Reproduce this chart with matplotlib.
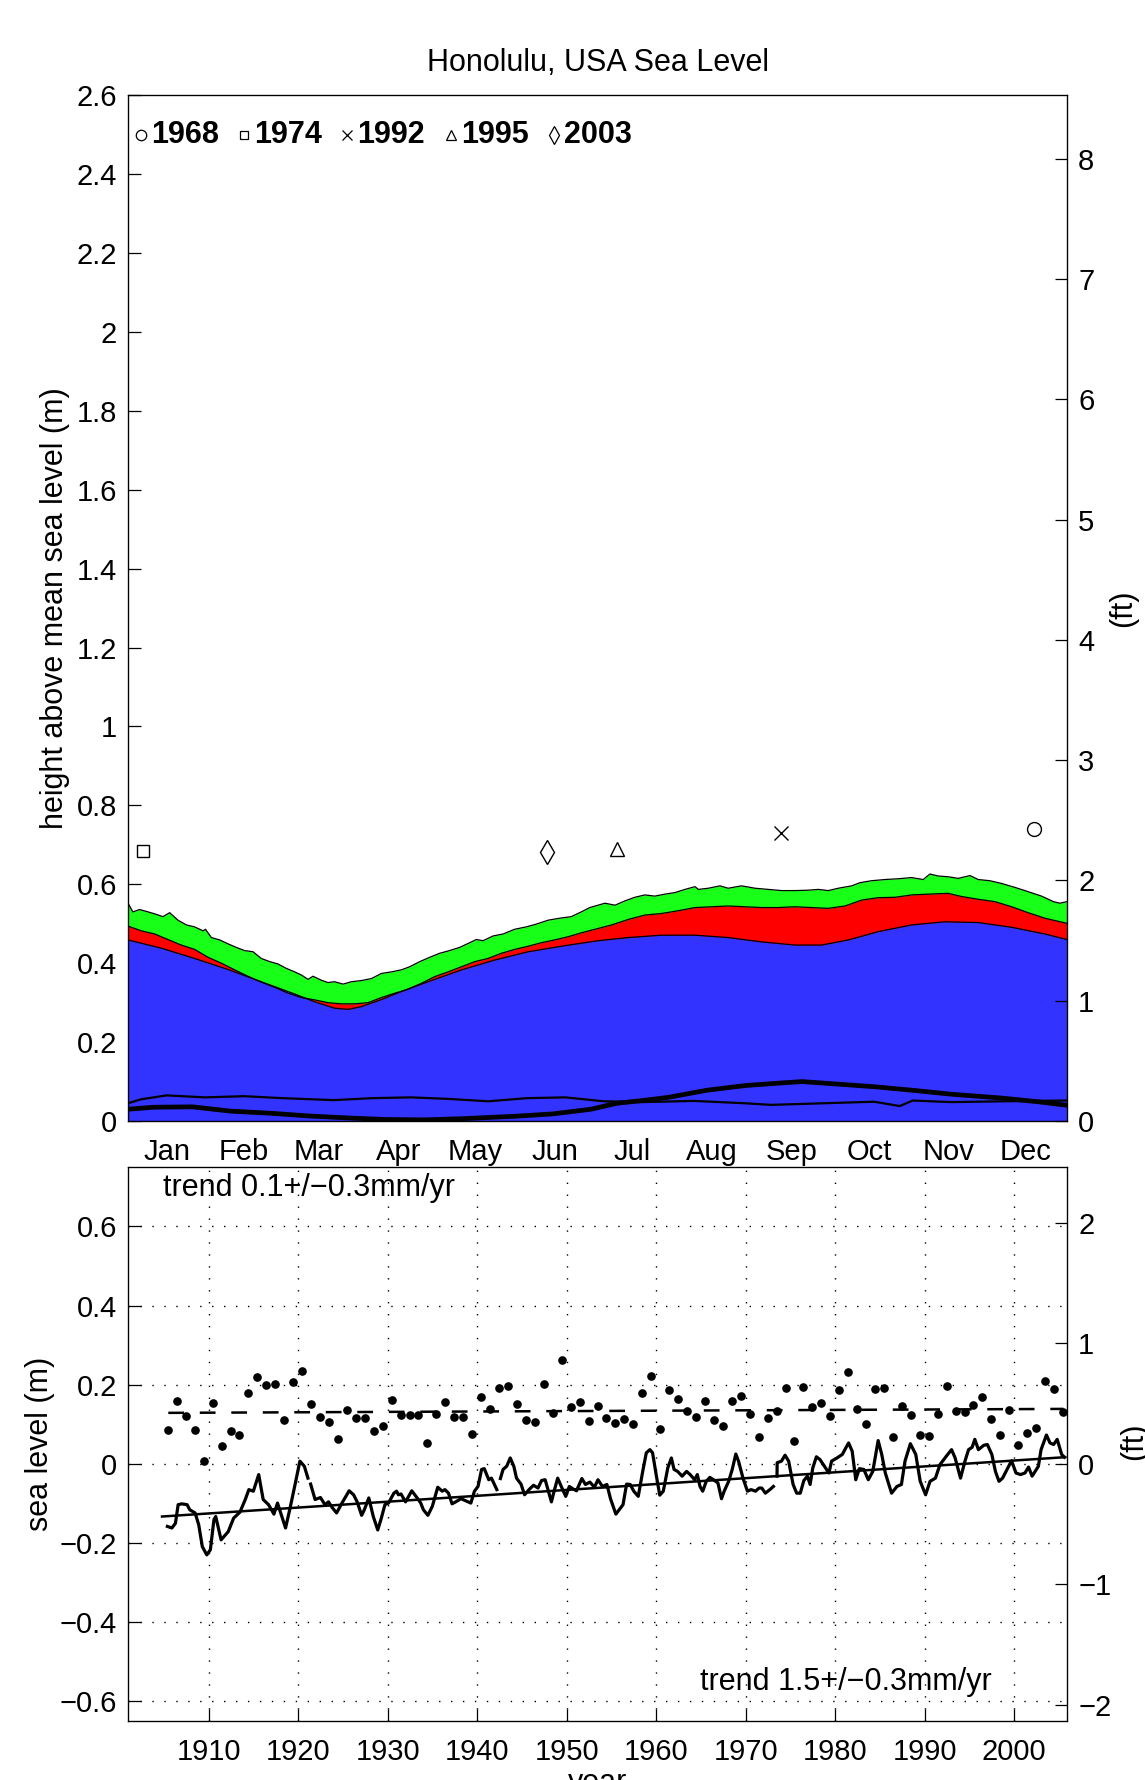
import numpy as np
import matplotlib
matplotlib.use("Agg")
import matplotlib.pyplot as plt
from matplotlib.ticker import FuncFormatter

plt.rcParams["font.family"] = ["Liberation Sans", "DejaVu Sans"]
plt.rcParams["axes.unicode_minus"] = True

M2FT = 1 / 0.3048

# ---- top panel: seasonal cycle (day of year, m) ----
green_day = [0, 1.9, 4.5, 7.8, 10.4, 13.6, 16.2, 19.4, 22.7, 25.9, 29.2, 30.1, 32.4, 35.6,
             38.9, 42.1, 45.3, 48.6, 51.8, 55.1, 58.3, 61.5, 64.8, 67.4, 70.0, 71.9, 75.1,
             77.7, 80.3, 83.6, 86.8, 90.7, 94.6, 98.5, 102.4, 106.2, 109.5, 113.4, 117.3,
             121.1, 125.0, 128.9, 132.2, 135.4, 138.0, 141.9, 145.8, 150.3, 154.8, 158.7,
             163.3, 167.8, 172.3, 176.2, 179.5, 182.7, 185.4, 189.3, 193.2, 197.0, 200.9,
             204.8, 208.7, 212.6, 216.5, 220.4, 221.7, 225.6, 230.1, 233.3, 238.5, 243.7,
             248.9, 254.1, 259.2, 264.4, 268.3, 272.2, 276.1, 281.3, 284.5, 289.0, 294.2,
             299.4, 304.6, 309.1, 311.7, 314.9, 318.8, 322.7, 327.3, 330.5, 335.0, 339.6,
             344.8, 350.0, 355.1, 359.7, 362.2, 365]
green_val = [0.552, 0.530, 0.536, 0.530, 0.525, 0.518, 0.528, 0.509, 0.497, 0.492, 0.482,
             0.486, 0.465, 0.459, 0.449, 0.440, 0.432, 0.429, 0.412, 0.404, 0.398, 0.387,
             0.378, 0.370, 0.359, 0.367, 0.357, 0.351, 0.353, 0.347, 0.353, 0.356, 0.361,
             0.374, 0.378, 0.383, 0.391, 0.404, 0.415, 0.425, 0.432, 0.440, 0.450, 0.460,
             0.457, 0.469, 0.474, 0.486, 0.492, 0.499, 0.509, 0.514, 0.518, 0.530, 0.541,
             0.547, 0.552, 0.547, 0.558, 0.567, 0.573, 0.570, 0.575, 0.579, 0.587, 0.594,
             0.587, 0.590, 0.596, 0.590, 0.596, 0.590, 0.587, 0.584, 0.584, 0.585, 0.587,
             0.584, 0.590, 0.596, 0.604, 0.609, 0.612, 0.614, 0.617, 0.612, 0.626, 0.621,
             0.619, 0.615, 0.622, 0.612, 0.609, 0.602, 0.592, 0.581, 0.570, 0.556, 0.552,
             0.556]
red_day = [0, 5.2, 10.4, 15.5, 20.7, 25.9, 31.1, 36.3, 41.5, 46.6, 51.8, 57.0, 62.2, 67.4,
           72.6, 77.7, 82.9, 88.1, 93.3, 98.5, 103.7, 108.8, 114.0, 119.2, 124.4, 129.6,
           134.8, 139.9, 145.1, 150.3, 155.5, 160.7, 165.8, 171.0, 176.2, 182.7, 188.0,
           194.5, 200.9, 207.4, 213.9, 220.4, 226.8, 233.3, 239.8, 246.3, 252.8, 259.2,
           265.7, 272.2, 278.7, 285.2, 291.6, 298.1, 304.6, 311.1, 318.8, 324.0, 330.5,
           337.0, 343.5, 349.9, 356.4, 365]
red_val = [0.494, 0.482, 0.474, 0.460, 0.446, 0.435, 0.415, 0.400, 0.383, 0.367, 0.352,
           0.339, 0.324, 0.313, 0.307, 0.300, 0.297, 0.297, 0.300, 0.313, 0.324, 0.334,
           0.349, 0.366, 0.378, 0.391, 0.404, 0.412, 0.425, 0.435, 0.443, 0.452, 0.459,
           0.467, 0.477, 0.488, 0.497, 0.511, 0.522, 0.526, 0.533, 0.541, 0.543, 0.545,
           0.543, 0.541, 0.541, 0.543, 0.541, 0.539, 0.545, 0.560, 0.566, 0.567, 0.573,
           0.575, 0.577, 0.569, 0.562, 0.556, 0.543, 0.528, 0.514, 0.501]
blue_day = [0, 13, 25.9, 38.9, 51.8, 64.8, 72.6, 80.3, 85.5, 90.7, 98.5, 106.2, 116.6,
            129.6, 142.5, 155.5, 168.4, 182.7, 194.5, 207.4, 220.4, 233.3, 246.3, 259.2,
            269.6, 280.0, 291.6, 304.6, 317.5, 330.5, 343.5, 356.4, 365]
blue_val = [0.459, 0.438, 0.412, 0.384, 0.353, 0.322, 0.302, 0.286, 0.283, 0.290, 0.308,
            0.328, 0.353, 0.383, 0.408, 0.429, 0.443, 0.457, 0.465, 0.471, 0.471, 0.465,
            0.454, 0.446, 0.446, 0.459, 0.480, 0.497, 0.505, 0.503, 0.491, 0.474, 0.460]
thick_day = [0, 10, 25, 40, 55, 70, 85, 100, 115, 130, 150, 165, 180, 190, 200, 210, 225,
             240, 255, 262, 275, 290, 305, 320, 340, 355, 365]
thick_val = [0.030, 0.035, 0.036, 0.025, 0.020, 0.013, 0.008, 0.004, 0.003, 0.006, 0.012,
             0.018, 0.030, 0.045, 0.052, 0.060, 0.078, 0.090, 0.097, 0.100, 0.094, 0.087,
             0.078, 0.068, 0.058, 0.048, 0.040]
thin_day = [0, 5, 15, 30, 45, 60, 80, 95, 110, 125, 140, 155, 170, 185, 200, 220, 240, 250,
            270, 290, 300, 305, 320, 340, 365]
thin_val = [0.045, 0.055, 0.065, 0.060, 0.063, 0.058, 0.053, 0.058, 0.060, 0.056, 0.050,
            0.058, 0.060, 0.050, 0.048, 0.051, 0.045, 0.041, 0.045, 0.049, 0.038, 0.052,
            0.048, 0.050, 0.052]

ext_years = ["1968", "1974", "1992", "1995", "2003"]
ext_day = [352, 6, 254, 190, 163]
ext_val = [0.741, 0.684, 0.730, 0.689, 0.681]
ext_marker = ["o", "s", "x", "^", "d"]

month_lbl = ["Jan", "Feb", "Mar", "Apr", "May", "Jun", "Jul", "Aug", "Sep", "Oct", "Nov", "Dec"]
month_mid = [15, 45, 74, 105, 135, 166, 196, 227, 258, 288, 319, 349]

# ---- bottom panel: annual dots and monthly mean sea level ----
dot_year = list(range(1905, 2006))
dot_val = [0.085, 0.159, 0.121, 0.085, 0.007, 0.153, 0.046, 0.082, 0.073, 0.178,
           0.219, 0.199, 0.203, 0.110, 0.207, 0.234, 0.152, 0.118, 0.105, 0.062,
           0.136, 0.115, 0.115, 0.083, 0.096, 0.162, 0.123, 0.123, 0.124, 0.053,
           0.126, 0.156, 0.118, 0.118, 0.075, 0.170, 0.138, 0.192, 0.197, 0.151,
           0.110, 0.107, 0.203, 0.128, 0.262, 0.144, 0.156, 0.108, 0.146, 0.115,
           0.103, 0.114, 0.100, 0.180, 0.221, 0.087, 0.188, 0.165, 0.134, 0.118,
           0.159, 0.110, 0.095, 0.160, 0.172, 0.126, 0.068, 0.115, 0.134, 0.193,
           0.059, 0.195, 0.144, 0.155, 0.122, 0.188, 0.233, 0.140, 0.101, 0.190,
           0.192, 0.069, 0.146, 0.124, 0.074, 0.070, 0.125, 0.197, 0.133, 0.130,
           0.150, 0.169, 0.113, 0.074, 0.135, 0.048, 0.077, 0.090, 0.210, 0.189,
           0.131]
dot_fit_year = [1905.5, 2005.5]
dot_fit_val = [0.129, 0.139]

msl_year = [1905.4, 1905.9, 1906.3, 1906.6, 1907.0, 1907.6, 1907.9, 1908.5, 1908.9, 1909.3,
            1909.8, 1910.2, 1910.6, 1910.8, 1911.4, 1911.9, 1912.2, 1912.8, 1913.5, 1914.1,
            1914.5, 1915.0, 1915.6, 1916.1, 1916.7, 1917.3, 1917.7, 1918.1, 1918.6, 1919.1,
            1919.7, 1920.2, 1920.7, 1921.1, 1921.25, 1921.4, 1921.9, 1922.5, 1923.0, 1923.4,
            1923.8, 1924.3, 1924.9, 1925.7, 1926.2, 1926.6, 1927.1, 1927.4, 1927.9, 1928.4,
            1928.9, 1929.3, 1929.7, 1930.1, 1930.7, 1931.0, 1931.2, 1931.5, 1932.0, 1932.7,
            1933.3, 1933.7, 1934.0, 1934.5, 1935.0, 1935.6, 1936.1, 1936.4, 1936.8, 1937.2,
            1937.6, 1938.2, 1938.7, 1939.3, 1939.7, 1940.1, 1940.5, 1940.8, 1941.3, 1941.6,
            1942.2, 1942.4, 1942.6, 1942.9, 1943.3, 1943.7, 1944.1, 1944.4, 1944.9, 1945.3,
            1945.8, 1946.3, 1946.8, 1947.2, 1947.6, 1948.3, 1948.6, 1949.0, 1949.4, 1949.9,
            1950.3, 1950.7, 1951.1, 1951.7, 1952.1, 1952.6, 1953.1, 1953.5, 1954.0, 1954.5,
            1954.9, 1955.5, 1956.0, 1956.3, 1956.7, 1957.1, 1957.5, 1958.0, 1958.5, 1958.9,
            1959.3, 1959.6, 1960.0, 1960.4, 1960.8, 1961.3, 1961.7, 1962.0, 1962.4, 1962.9,
            1963.4, 1963.8, 1964.3, 1964.6, 1964.9, 1965.2, 1965.6, 1966.0, 1966.4, 1966.9,
            1967.3, 1967.6, 1968.1, 1968.5, 1968.9, 1969.2, 1969.7, 1970.2, 1970.6, 1971.1,
            1971.5, 1971.8, 1972.2, 1972.7, 1973.1, 1973.3, 1973.5, 1973.52, 1974.0, 1974.4,
            1974.8, 1975.3, 1975.7, 1976.1, 1976.5, 1976.9, 1977.2, 1977.5, 1977.9, 1978.3,
            1978.8, 1979.3, 1979.6, 1980.2, 1980.8, 1981.2, 1981.5, 1981.9, 1982.3, 1982.7,
            1983.2, 1983.7, 1984.2, 1984.8, 1985.2, 1985.6, 1986.3, 1986.9, 1987.4, 1987.8,
            1988.4, 1989.0, 1989.5, 1990.1, 1990.6, 1991.2, 1991.7, 1992.5, 1993.0, 1993.4,
            1994.0, 1994.5, 1994.9, 1995.3, 1995.6, 1996.0, 1996.6, 1997.0, 1997.5, 1997.9,
            1998.3, 1998.7, 1999.2, 1999.7, 2000.2, 2000.7, 2001.2, 2001.6, 2002.0, 2002.7,
            2003.0, 2003.6, 2004.0, 2004.4, 2004.8, 2005.3, 2005.6]
msl_val = [-0.158, -0.162, -0.150, -0.103, -0.101, -0.103, -0.116, -0.124, -0.154, -0.209,
           -0.230, -0.217, -0.141, -0.133, -0.192, -0.179, -0.171, -0.137, -0.122, -0.090,
           -0.065, -0.069, -0.027, -0.090, -0.103, -0.127, -0.099, -0.127, -0.162, -0.112,
           -0.048, 0.007, -0.006, -0.036, np.nan, -0.051, -0.090, -0.085, -0.103, -0.096,
           -0.110, -0.124, -0.099, -0.068, -0.078, -0.096, -0.130, -0.116, -0.086, -0.133,
           -0.167, -0.137, -0.103, -0.099, -0.074, -0.069, -0.078, -0.076, -0.096, -0.068,
           -0.086, -0.099, -0.116, -0.130, -0.107, -0.059, -0.069, -0.065, -0.074, -0.101,
           -0.096, -0.088, -0.093, -0.099, -0.069, -0.057, -0.014, -0.012, -0.040, -0.036,
           -0.065, np.nan, -0.037, -0.014, -0.006, 0.015, -0.006, -0.036, -0.051, -0.078,
           -0.065, -0.054, -0.061, -0.042, -0.040, -0.096, -0.069, -0.036, -0.057, -0.082,
           -0.057, -0.063, -0.068, -0.037, -0.052, -0.046, -0.059, -0.040, -0.057, -0.052,
           -0.088, -0.127, -0.112, -0.103, -0.051, -0.052, -0.069, -0.082, -0.019, 0.028,
           0.036, 0.028, -0.027, -0.079, -0.069, -0.010, 0.015, -0.014, -0.019, -0.031,
           -0.019, -0.027, -0.040, -0.027, -0.057, -0.069, -0.044, -0.034, -0.040, -0.048,
           -0.088, -0.069, -0.044, -0.014, 0.025, 0.007, -0.036, -0.069, -0.065, -0.069,
           -0.061, -0.061, -0.074, -0.065, -0.057, np.nan, -0.031, 0.003, 0.007, 0.022,
           0.007, -0.052, -0.074, -0.074, -0.042, -0.031, -0.052, -0.010, 0.018, 0.011,
           -0.006, -0.023, 0.007, 0.015, 0.024, 0.041, 0.053, 0.032, -0.040, -0.012,
           -0.014, -0.040, -0.019, 0.059, 0.024, -0.023, -0.074, -0.057, -0.052, 0.007,
           0.051, 0.024, -0.044, -0.078, -0.044, -0.036, -0.002, 0.022, 0.036, 0.015,
           -0.036, 0.007, 0.036, 0.042, 0.062, 0.036, 0.047, 0.049, 0.024, -0.019,
           -0.044, -0.036, -0.014, 0.008, -0.023, -0.027, -0.023, -0.008, -0.031, -0.006,
           0.036, 0.073, 0.053, 0.049, 0.062, 0.024, 0.017]
trend_year = [1904.8, 2005.7]
trend_val = [-0.133, 0.017]

FS = 22
TFS = 21
BLUE = "#3333FF"
RED = "#FF0000"
GREEN = "#18FF18"


def fmt_num(v, p=None):
    v = round(v, 6)
    if v == 0:
        return "0"
    return f"{v:g}".replace("-", "\u2212")


fmt_m = FuncFormatter(fmt_num)

fig = plt.figure(figsize=(11.45, 17.8), dpi=100)

# =================== top panel ===================
ax1 = fig.add_axes([0.1118, 0.3702, 0.8201, 0.5764])
ax1.set_axisbelow(True)
ax1.fill_between(green_day, 0, green_val, color=GREEN, lw=0, zorder=1)
ax1.fill_between(red_day, 0, red_val, color=RED, lw=0, zorder=1.1)
ax1.fill_between(blue_day, 0, blue_val, color=BLUE, lw=0, zorder=1.2)
ax1.plot(green_day, green_val, color="black", lw=0.9, zorder=2)
ax1.plot(red_day, red_val, color="black", lw=0.9, zorder=2)
ax1.plot(blue_day, blue_val, color="black", lw=0.9, zorder=2)
ax1.plot(thin_day, thin_val, color="black", lw=1.6, zorder=2)
ax1.plot(thick_day, thick_val, color="black", lw=3.4, zorder=2)

for d, v, mk in zip(ext_day, ext_val, ext_marker):
    ms = 12 if mk == "d" else (8 if mk == "s" else 10)
    ax1.plot(d, v, marker=mk, ms=ms, mfc="none", mec="black", mew=1.0, ls="none", zorder=3)

# legend of extreme years
leg_mx = [0.0138, 0.1235, 0.2332, 0.3440, 0.4537]
for xm, yr, mk in zip(leg_mx, ext_years, ext_marker):
    ms = 9 if mk == "d" else (6 if mk == "s" else 7.5)
    ax1.plot(xm, 0.961, marker=mk, ms=ms, mfc="none", mec="black", mew=0.9,
             transform=ax1.transAxes, ls="none", zorder=4)
    ax1.text(xm + 0.0105, 0.961, yr, transform=ax1.transAxes, fontsize=FS,
             fontweight="bold", va="center", ha="left", zorder=4)

ax1.set_xlim(0, 365)
ax1.set_ylim(0, 2.6)
ax1.set_xticks(month_mid)
ax1.set_xticklabels(month_lbl)
ax1.set_yticks(np.arange(0, 2.61, 0.2))
ax1.yaxis.set_major_formatter(fmt_m)
ax1.tick_params(axis="x", length=0, pad=12, labelsize=TFS)
ax1.tick_params(axis="y", direction="in", length=9, width=0.9, pad=8, labelsize=TFS)
ax1.set_ylabel("height above mean sea level (m)", fontsize=FS)
ax1.yaxis.set_label_coords(-0.062, 0.5)
ax1.set_title("Honolulu, USA Sea Level", fontsize=FS, pad=17)
for sp in ax1.spines.values():
    sp.set_linewidth(0.9)
    sp.set_zorder(5)

ax2 = ax1.twinx()
ax2.set_ylim(0, 2.6 * M2FT)
ax2.set_yticks(range(0, 9))
ax2.tick_params(axis="y", direction="in", length=9, width=0.9, pad=8, labelsize=TFS)
ax2.set_ylabel("(ft)", fontsize=FS)
ax2.yaxis.set_label_coords(1.044, 0.5)

# =================== bottom panel ===================
ax3 = fig.add_axes([0.1118, 0.0331, 0.8201, 0.3112])
ax3.grid(True, color="black", ls=(0, (1, 7.6)), lw=1.0)
ax3.plot(np.array(dot_year) + 0.45, dot_val, "o", color="black", ms=5.2, zorder=3)
ax3.plot(dot_fit_year, dot_fit_val, color="black", lw=1.8, ls=(0, (6.3, 6.3)), zorder=3)
ax3.plot(msl_year, msl_val, color="black", lw=2.3, zorder=3)
ax3.plot(trend_year, trend_val, color="black", lw=1.8, zorder=3)

ax3.text(0.0373, 0.962, "trend 0.1+/\u22120.3mm/yr", transform=ax3.transAxes,
         fontsize=FS, va="center", ha="left")
ax3.text(0.609, 0.070, "trend 1.5+/\u22120.3mm/yr", transform=ax3.transAxes,
         fontsize=FS, va="center", ha="left")

ax3.set_xlim(1901.0, 2005.9)
ax3.set_ylim(-0.65, 0.75)
ax3.set_xticks(range(1910, 2001, 10))
ax3.set_yticks(np.arange(-0.6, 0.61, 0.2))
ax3.yaxis.set_major_formatter(fmt_m)
ax3.tick_params(axis="both", direction="in", length=9, width=0.9, labelsize=TFS)
ax3.tick_params(axis="x", pad=12)
ax3.tick_params(axis="y", pad=8)
ax3.set_ylabel("sea level (m)", fontsize=FS)
ax3.yaxis.set_label_coords(-0.078, 0.5)
ax3.set_xlabel("year", fontsize=FS)
ax3.xaxis.set_label_coords(0.5, -0.085)
for sp in ax3.spines.values():
    sp.set_linewidth(0.9)

ax4 = ax3.twinx()
ax4.set_ylim(-0.65 * M2FT, 0.75 * M2FT)
ax4.set_yticks(range(-2, 3))
ax4.yaxis.set_major_formatter(fmt_m)
ax4.tick_params(axis="y", direction="in", length=9, width=0.9, pad=8, labelsize=TFS)
ax4.set_ylabel("(ft)", fontsize=FS)
ax4.yaxis.set_label_coords(1.055, 0.505)

fig.savefig("out.png", dpi=100)
